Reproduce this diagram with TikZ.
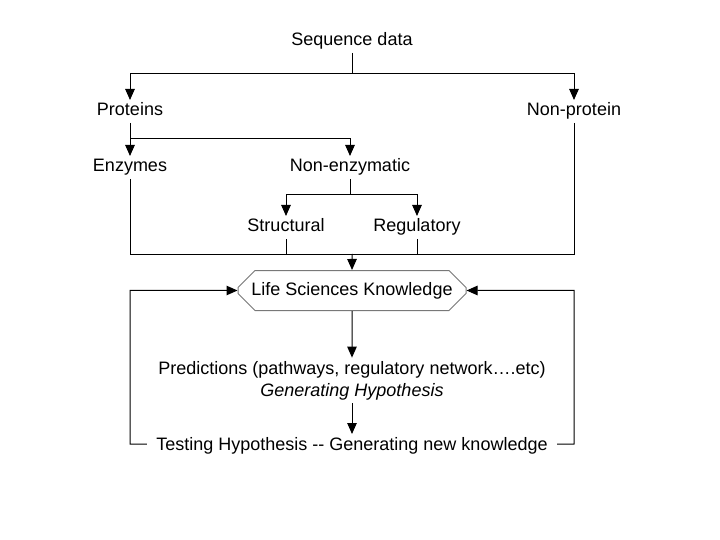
\documentclass[tikz,border=0pt]{standalone}
\usepackage{fontspec}
\setmainfont{Liberation Sans}
\usepackage{tikz}
\usetikzlibrary{arrows.meta,shapes.misc}
\definecolor{boxgray}{RGB}{120,120,120}

\begin{document}
\begin{tikzpicture}[x=1pt,y=-1pt,
  lbl/.style={font=\fontsize{18}{22}\selectfont, inner sep=3pt,
    text height=12.5pt, text depth=3.5pt, yshift=-1.5pt},
  arr/.style={-{Triangle[length=11pt,width=9.5pt]}},
  every path/.style={line width=1pt},
  kbox/.style={lbl, chamfered rectangle, chamfered rectangle xsep=8pt,
    chamfered rectangle ysep=9pt, chamfered rectangle angle=45,
    draw=boxgray, fill=white,
    minimum width=228pt, minimum height=40pt, inner xsep=4pt, yshift=0pt}]

\useasboundingbox (0,0) rectangle (720,540);

\node[lbl] (seq) at (352,40) {Sequence data};
\node[lbl] (prot) at (130,110) {Proteins};
\node[lbl] (nonprot) at (574,110) {Non-protein};
\node[lbl] (enz) at (130,166) {Enzymes};
\node[lbl] (nonenz) at (350,166) {Non-enzymatic};
\node[lbl] (struc) at (286,226) {Structural};
\node[lbl] (regul) at (417,226) {Regulatory};

\node[kbox] (lsk) at (352,289) {Life Sciences Knowledge};
\node[lbl, align=center, text height=, text depth=] (pred) at (352,379)
  {Predictions (pathways, regulatory network….etc)\\\textit{Generating Hypothesis}};
\node[lbl, inner xsep=9pt] (test) at (352,444) {Testing Hypothesis {-}{-} Generating new knowledge};

\coordinate (j1) at (352,74);
\coordinate (j2) at (130,139);
\coordinate (j3) at (350,195);
\coordinate (j4) at (352,254);
\coordinate (fbl) at (130,444);
\coordinate (fbr) at (574,444);

\draw (seq) -- (j1);
\draw[arr] (j1) -| (prot);
\draw[arr] (j1) -| (nonprot);

\draw (prot) -- (j2);
\draw[arr] (j2) -- (enz);
\draw[arr] (j2) -| (nonenz);

\draw (nonenz) -- (j3);
\draw[arr] (j3) -| (struc);
\draw[arr] (j3) -| (regul);

\draw (enz) |- (j4);
\draw (nonprot) |- (j4);
\draw (struc) -- (struc |- j4);
\draw (regul) -- (regul |- j4);
\draw[arr] (j4) -- (lsk);

\draw[arr] (lsk) -- (pred);
\draw[arr] (pred) -- (test);

\draw[arr] (test) -- (fbl) |- (lsk);
\draw[arr] (test) -- (fbr) |- (lsk);

\end{tikzpicture}
\end{document}
